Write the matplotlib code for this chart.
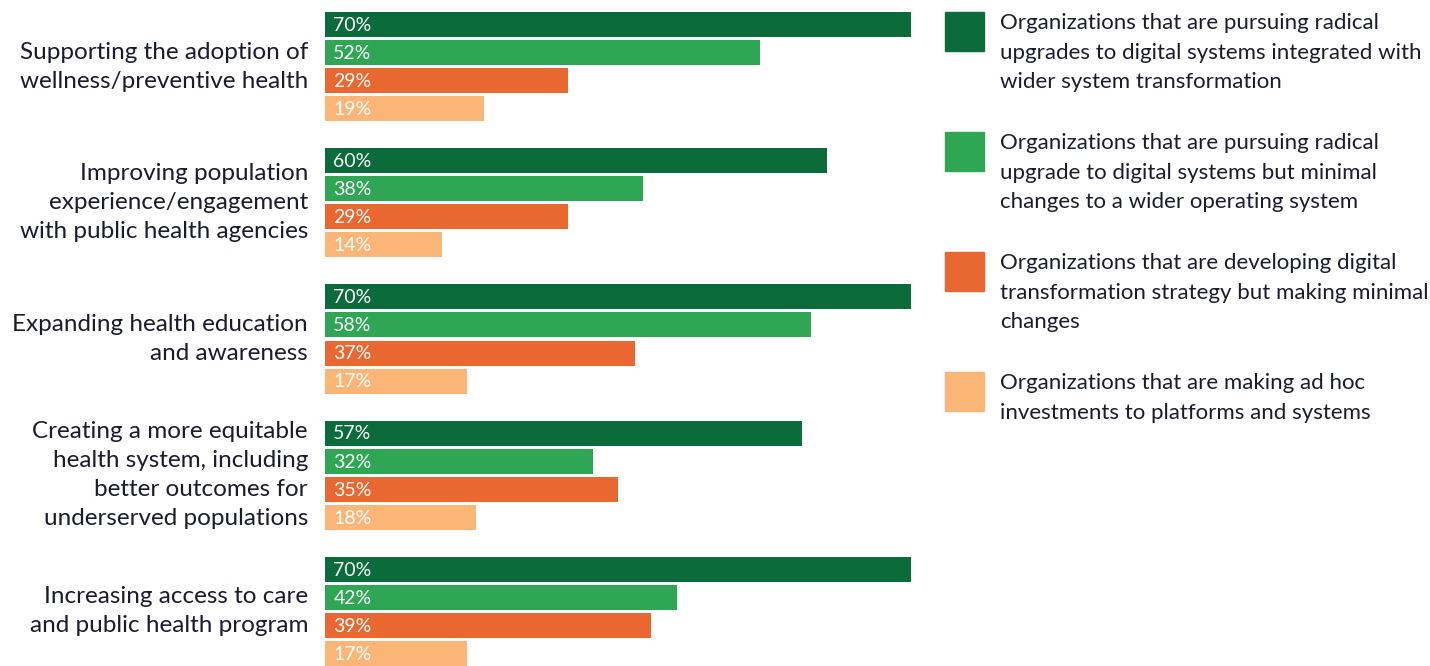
import matplotlib.pyplot as plt
from matplotlib.patches import Rectangle

# Данные
categories = [
    "Supporting the adoption of\nwellness/preventive health",
    "Improving population\nexperience/engagement\nwith public health agencies",
    "Expanding health education\nand awareness",
    "Creating a more equitable\nhealth system, including\nbetter outcomes for\nunderserved populations",
    "Increasing access to care\nand public health program",
]
series_labels = [
    "Organizations that are pursuing radical\nupgrades to digital systems integrated with\nwider system transformation",
    "Organizations that are pursuing radical\nupgrade to digital systems but minimal\nchanges to a wider operating system",
    "Organizations that are developing digital\ntransformation strategy but making minimal\nchanges",
    "Organizations that are making ad hoc\ninvestments to platforms and systems",
]
radical_integrated = [70, 60, 70, 57, 70]
radical_minimal = [52, 38, 58, 32, 42]
strategy_only = [29, 29, 37, 35, 39]
ad_hoc = [19, 14, 17, 18, 17]

colors = ['#0b6b3a', '#2ea654', '#e96831', '#fbb677']
text_color = '#1a1c2e'

plt.rcParams['font.family'] = ['Lato', 'DejaVu Sans']

W, H = 1430, 666
fig = plt.figure(figsize=(W / 100, H / 100), dpi=100)
ax = fig.add_axes([325 / W, 0, 586 / W, 654 / H])

series = [radical_integrated, radical_minimal, strategy_only, ad_hoc]
gap = 136 / 28   # шаг между группами
h = 25 / 28      # толщина полосы

for j, vals in enumerate(series):
    for g, v in enumerate(vals):
        y = g * gap + j
        ax.barh(y, v, height=h, color=colors[j])
        ax.text(1.0, y + 0.03, f'{v}%', color='white', va='center', ha='left',
                fontsize=14)

# Подписи категорий слева
for g, cat in enumerate(categories):
    ax.text(-17 / 586, g * gap + 1.5, cat, transform=ax.get_yaxis_transform(),
            ha='right', va='center', fontsize=17.5, color=text_color,
            linespacing=1.48)

ax.set_xlim(0, 70)
ax.set_ylim(4 * gap + 3 + h / 2, -h / 2)
ax.axis('off')

# Легенда справа
for i, lab in enumerate(series_labels):
    top = 12 + 120 * i
    fig.add_artist(Rectangle((945 / W, 1 - (top + 39) / H), 39 / W, 39 / H,
                             color=colors[i], transform=fig.transFigure))
    fig.text(1000 / W, 1 - (top + 1) / H, lab, ha='left', va='top',
             fontsize=16, color=text_color, linespacing=1.6)

fig.savefig('out.png', dpi=100)
